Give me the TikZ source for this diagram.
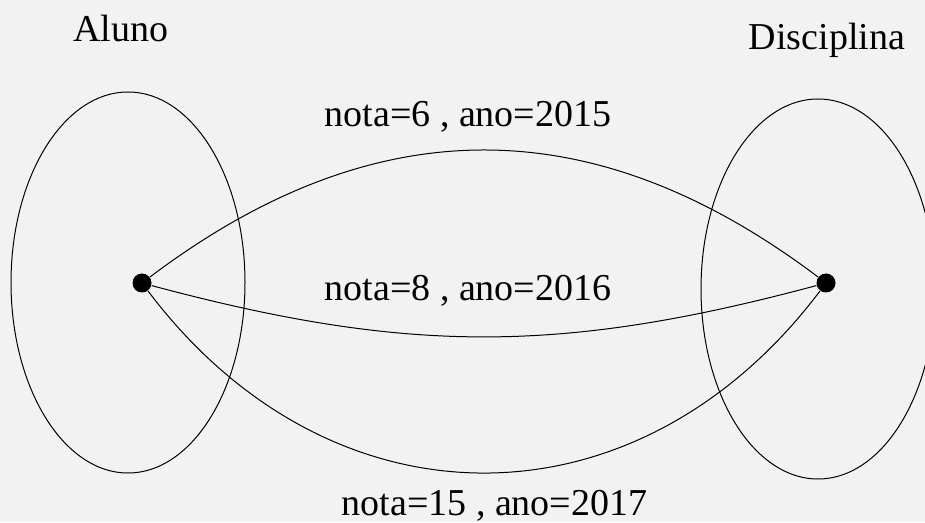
\documentclass[tikz,border=0pt]{standalone}
\usepackage{fontspec}
\setmainfont{Liberation Serif}
\usetikzlibrary{arrows}
\definecolor{fundo}{HTML}{F2F2F2}

\begin{document}
\begin{tikzpicture}[x=1pt,y=1pt,line width=1pt,
    ponto/.style={circle,fill=black,inner sep=0pt,minimum size=19pt},
    rotulo/.style={anchor=base,inner sep=0pt,font=\fontsize{38}{44}\selectfont}]
    \useasboundingbox (0,0) rectangle (925,522);
    \clip (0,0) rectangle (925,522);
    \fill[fundo] (0,0) rectangle (925,522);
    \draw (128,239.5) ellipse [x radius=117pt, y radius=190.5pt];
    \draw (818,233) ellipse [x radius=117pt, y radius=190pt];
    \node[ponto]  (A)  at (142,239)  {};
    \node[ponto]  (D)  at (826,239)  {};
    \node[rotulo] (tA) at (120.5,480) {Aluno};
    \node[rotulo] (tD) at (827,472)   {Disciplina};
    \node[rotulo] (n1) at (468,395)   {nota=6 , ano=2015};
    \node[rotulo] (n2) at (468,221)   {nota=8 , ano=2016};
    \node[rotulo] (n3) at (494.5,7)   {nota=15 , ano=2017};
    \path[-]    (A)     edge [out=37,in=143,looseness=1.08]    (D)
                (A)     edge [out=-15,in=-165,looseness=1.02]  (D)
                (A)     edge [out=-53,in=-127,looseness=1.16]  (D)
                ;
\end{tikzpicture}
\end{document}
